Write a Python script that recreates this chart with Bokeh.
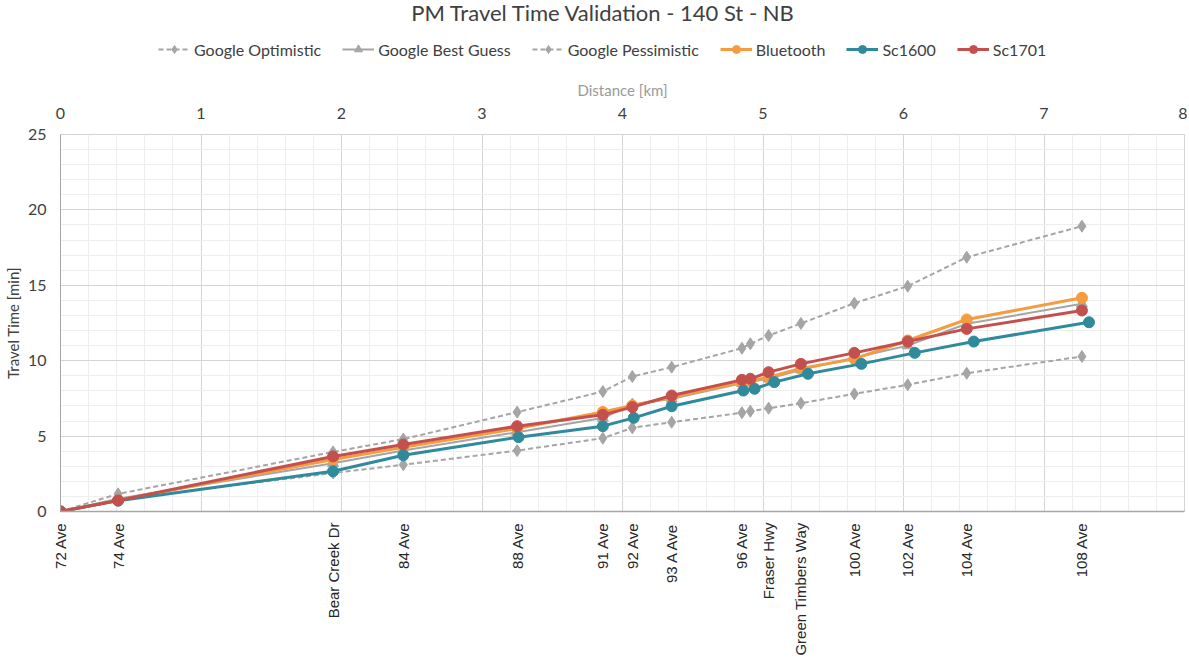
import math
from bokeh.plotting import figure
from bokeh.layouts import column
from bokeh.models import (LinearAxis, FixedTicker, SingleIntervalTicker, Range1d,
                          Legend, LegendItem, Label)
from bokeh.embed import file_html
from bokeh.resources import INLINE

# ---------------- data ----------------
stops = ["72 Ave", "74 Ave", "Bear Creek Dr", "84 Ave", "88 Ave", "91 Ave", "92 Ave",
         "93 A Ave", "96 Ave", "", "Fraser Hwy", "Green Timbers Way", "100 Ave",
         "102 Ave", "104 Ave", "108 Ave"]
dist = [0.0, 0.41, 1.94, 2.44, 3.25, 3.86, 4.07, 4.35, 4.85, 4.91, 5.04, 5.27, 5.65,
        6.03, 6.45, 7.27]
dist_sc1600 = [0.0, 0.41, 1.94, 2.44, 3.26, 3.86, 4.08, 4.35, 4.86, 4.94, 5.08, 5.32,
               5.70, 6.08, 6.50, 7.32]

google_optimistic = [0.0, 0.78, 2.55, 3.10, 4.04, 4.86, 5.55, 5.92, 6.55, 6.65, 6.85,
                     7.18, 7.80, 8.40, 9.17, 10.28]
google_best_guess = [0.0, 0.85, 3.20, 4.05, 5.26, 6.20, 7.10, 7.47, 8.50, 8.60, 8.80,
                     9.40, 10.20, 11.00, 12.45, 13.77]
google_pessimistic = [0.0, 1.17, 3.95, 4.80, 6.59, 7.96, 8.95, 9.57, 10.83, 11.12, 11.67,
                      12.47, 13.81, 14.94, 16.86, 18.92]
bluetooth = [0.0, 0.75, 3.45, 4.26, 5.50, 6.60, 7.03, 7.58, 8.57, 8.65, 8.90, 9.48,
             10.12, 11.34, 12.73, 14.17]
sc1600 = [0.0, 0.72, 2.67, 3.73, 4.93, 5.66, 6.21, 6.98, 8.02, 8.14, 8.58, 9.13, 9.79,
          10.52, 11.27, 12.55]
sc1701 = [0.0, 0.73, 3.65, 4.44, 5.66, 6.41, 6.92, 7.69, 8.73, 8.80, 9.24, 9.79, 10.52,
          11.27, 12.11, 13.33]

TITLE = "PM Travel Time Validation - 140 St - NB"

# ---------------- styling ----------------
FONT = "Lato"
TXT = "#404040"
GRAY = "#a5a5a5"
ORANGE = "#f59b40"
TEAL = "#2f8a9c"
RED = "#c4504d"

W = 1187
TOP_H = 70
MAIN_H = 588
NAN = [float("nan")]

# ---------- header figure: title + legend ----------
head = figure(width=W, height=TOP_H, x_range=Range1d(0, 1), y_range=Range1d(0, 1),
              x_axis_location=None, y_axis_location=None, output_backend="svg",
              toolbar_location=None, min_border=0)
head.grid.visible = False
head.outline_line_color = None

head.add_layout(Label(x=543, y=TOP_H - 12, x_units="screen", y_units="screen",
                      text=TITLE, text_align="center", text_baseline="middle",
                      text_font=FONT, text_font_size="22px", text_color=TXT))

# legend proxies (no visible data)
g_opt_l = head.line(NAN, NAN, line_color=GRAY, line_width=2, line_dash="5 3")
g_opt_m = head.scatter(NAN, NAN, marker="diamond", size=12, fill_color=GRAY, line_color=GRAY)
g_bg_l = head.line(NAN, NAN, line_color=GRAY, line_width=2)
g_bg_m = head.scatter(NAN, NAN, marker="triangle", size=11, fill_color=GRAY, line_color=GRAY)
g_pes_l = head.line(NAN, NAN, line_color=GRAY, line_width=2, line_dash="5 3")
g_pes_m = head.scatter(NAN, NAN, marker="diamond", size=12, fill_color=GRAY, line_color=GRAY)
g_bt_l = head.line(NAN, NAN, line_color=ORANGE, line_width=3)
g_bt_m = head.scatter(NAN, NAN, marker="circle", size=11, fill_color=ORANGE, line_color=ORANGE)
g_16_l = head.line(NAN, NAN, line_color=TEAL, line_width=3)
g_16_m = head.scatter(NAN, NAN, marker="circle", size=11, fill_color=TEAL, line_color=TEAL)
g_17_l = head.line(NAN, NAN, line_color=RED, line_width=3)
g_17_m = head.scatter(NAN, NAN, marker="circle", size=11, fill_color=RED, line_color=RED)

legend = Legend(items=[
    LegendItem(label="Google Optimistic", renderers=[g_opt_l, g_opt_m]),
    LegendItem(label="Google Best Guess", renderers=[g_bg_l, g_bg_m]),
    LegendItem(label="Google Pessimistic", renderers=[g_pes_l, g_pes_m]),
    LegendItem(label="Bluetooth", renderers=[g_bt_l, g_bt_m]),
    LegendItem(label="Sc1600", renderers=[g_16_l, g_16_m]),
    LegendItem(label="Sc1701", renderers=[g_17_l, g_17_m]),
], orientation="horizontal", location=(98, 11))
legend.label_text_font = FONT
legend.label_text_font_size = "16px"
legend.label_text_color = TXT
legend.glyph_width = 32
legend.label_standoff = 4
legend.spacing = 21
legend.padding = 6
legend.margin = 0
legend.border_line_color = None
legend.background_fill_alpha = 0
head.add_layout(legend, "center")

# ---------- main chart ----------
p = figure(width=W, height=MAIN_H, x_range=Range1d(0, 8), y_range=Range1d(0, 25),
           x_axis_location="above", output_backend="svg", toolbar_location=None,
           min_border_left=59, min_border_right=3, min_border_top=64,
           min_border_bottom=147)

top = p.xaxis[0]
top.ticker = SingleIntervalTicker(interval=1, num_minor_ticks=5)
top.axis_label = "Distance [km]"
top.axis_label_text_font = FONT
top.axis_label_text_font_size = "15px"
top.axis_label_text_font_style = "normal"
top.axis_label_text_color = "#9a9a9a"
top.axis_label_standoff = 6
top.major_label_text_font = FONT
top.major_label_text_font_size = "16px"
top.major_label_text_color = TXT
top.major_label_standoff = 10
top.axis_line_color = None
top.major_tick_line_color = None
top.minor_tick_line_color = None

left = p.yaxis[0]
left.ticker = SingleIntervalTicker(interval=5, num_minor_ticks=5)
left.axis_label = "Travel Time [min]"
left.axis_label_text_font = FONT
left.axis_label_text_font_size = "15px"
left.axis_label_text_font_style = "normal"
left.axis_label_text_color = TXT
left.axis_label_standoff = 3
left.major_label_text_font = FONT
left.major_label_text_font_size = "16px"
left.major_label_text_color = TXT
left.major_label_standoff = 8
left.axis_line_color = "#a6a6a6"
left.major_tick_line_color = None
left.minor_tick_line_color = None

tick_pos = [d for d, s in zip(dist, stops) if s]
tick_lab = [s for s in stops if s]
bottom = LinearAxis(ticker=FixedTicker(ticks=tick_pos, minor_ticks=[]),
                    major_label_overrides={d: s for d, s in zip(tick_pos, tick_lab)})
bottom.major_label_orientation = math.pi / 2
bottom.major_label_text_font = "Liberation Sans"
bottom.major_label_text_font_size = "15px"
bottom.major_label_text_color = "#262626"
bottom.major_label_standoff = 5
bottom.axis_line_color = "#a6a6a6"
bottom.axis_line_width = 1.5
bottom.major_tick_line_color = None
bottom.minor_tick_line_color = None
p.add_layout(bottom, "below")

p.xgrid.grid_line_color = "#d4d4d4"
p.xgrid.minor_grid_line_color = "#eeeeee"
p.ygrid.grid_line_color = "#d4d4d4"
p.ygrid.minor_grid_line_color = "#eeeeee"
p.outline_line_color = "#d4d4d4"

p.line(dist, google_optimistic, line_color=GRAY, line_width=2, line_dash="5 3")
p.scatter(dist, google_optimistic, marker="diamond", size=12, fill_color=GRAY,
          line_color=GRAY)
p.line(dist, google_pessimistic, line_color=GRAY, line_width=2, line_dash="5 3")
p.scatter(dist, google_pessimistic, marker="diamond", size=12, fill_color=GRAY,
          line_color=GRAY)
p.line(dist, google_best_guess, line_color=GRAY, line_width=2)
p.scatter(dist, google_best_guess, marker="triangle", size=11, fill_color=GRAY,
          line_color=GRAY)
p.line(dist, bluetooth, line_color=ORANGE, line_width=3)
p.scatter(dist, bluetooth, marker="circle", size=11, fill_color=ORANGE, line_color=ORANGE)
p.line(dist_sc1600, sc1600, line_color=TEAL, line_width=3)
p.scatter(dist_sc1600, sc1600, marker="circle", size=11, fill_color=TEAL, line_color=TEAL)
p.line(dist, sc1701, line_color=RED, line_width=3)
p.scatter(dist, sc1701, marker="circle", size=11, fill_color=RED, line_color=RED)

layout = column(head, p, spacing=0)
open("out.html", "w").write(file_html(layout, INLINE))
